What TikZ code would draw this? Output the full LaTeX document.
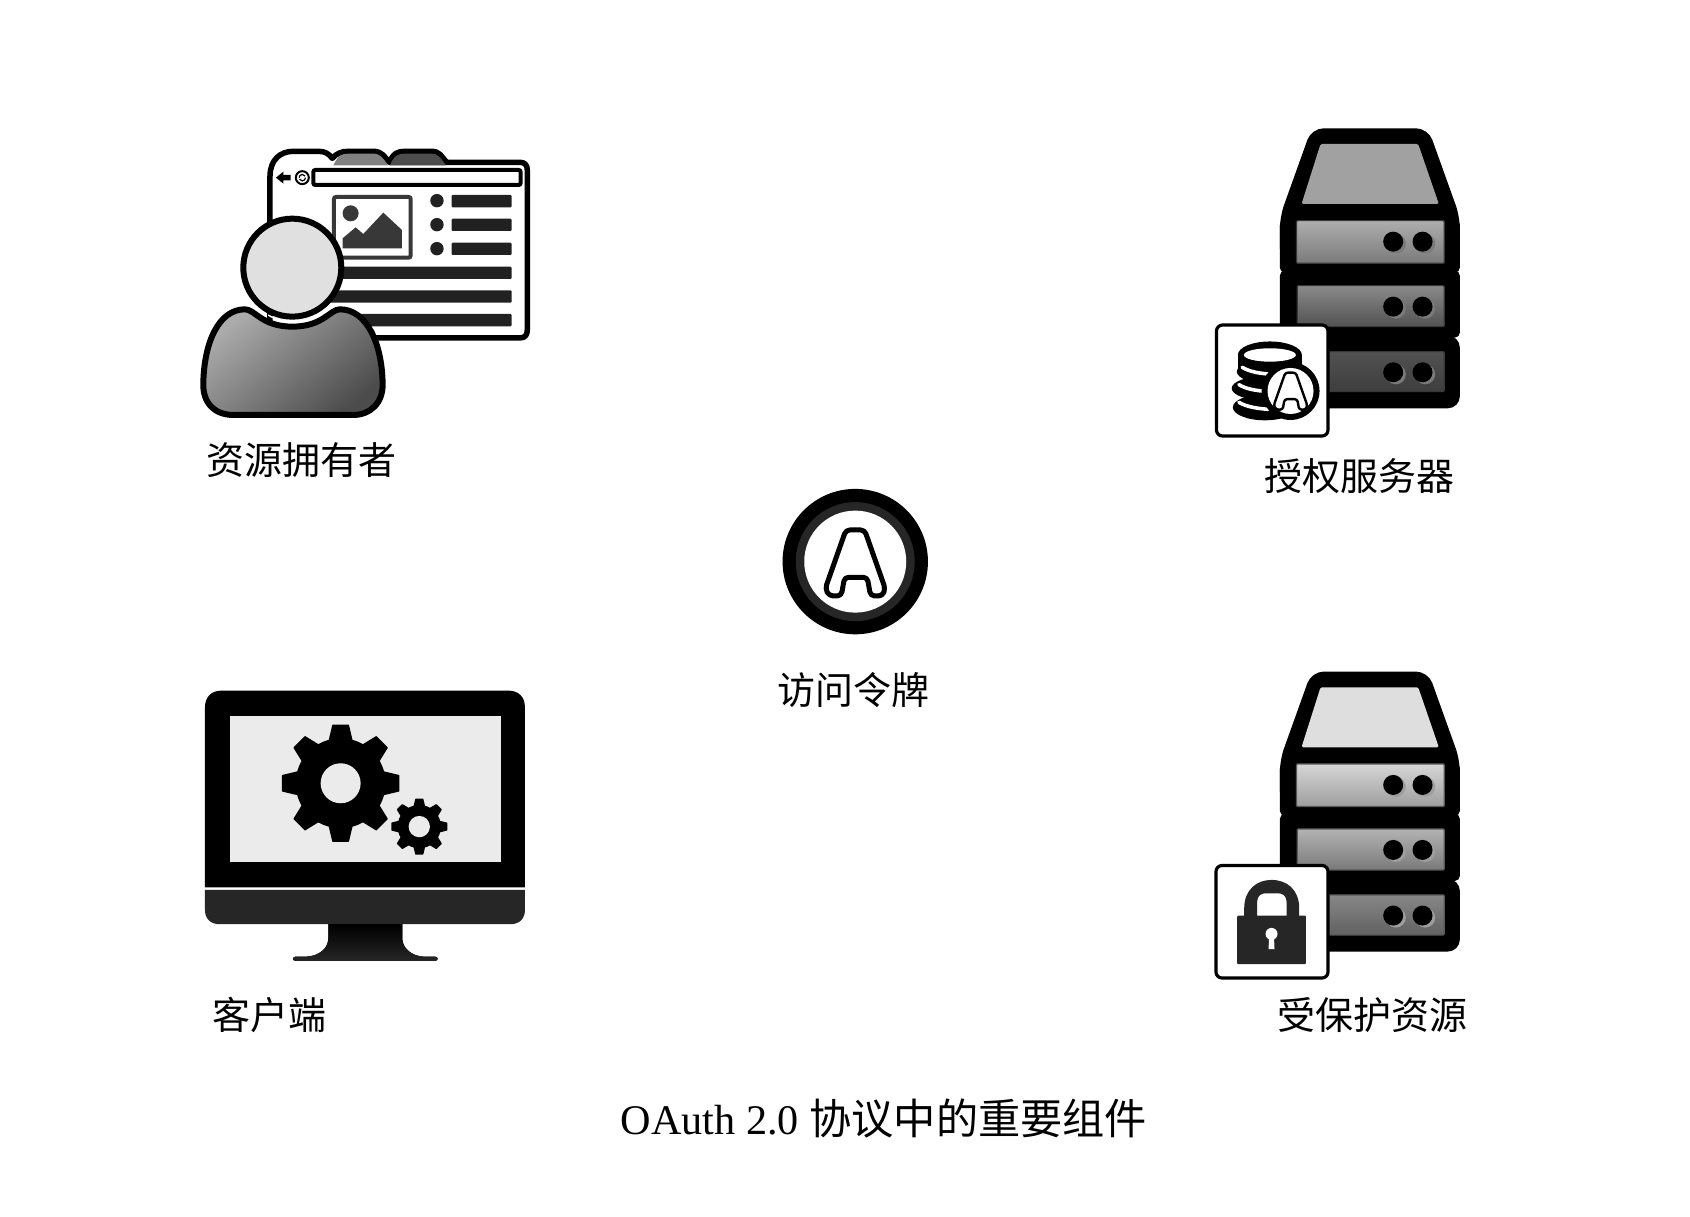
\documentclass[tikz,border=0pt]{standalone}
\usepackage{fontspec}
\setmainfont{Liberation Serif}
\newfontfamily\cjk{Noto Sans CJK SC}
\usetikzlibrary{calc}
\tikzset{
  lab/.style={font=\fontsize{38}{41}\selectfont\cjk,inner sep=0pt,anchor=center},
  captext/.style={font=\fontsize{42.2}{46}\selectfont,inner sep=0pt,anchor=center},
  zoomed/.style={x=0.3333pt,y=-0.3333pt},
  bar/.style={fill=#1,rounded corners=1pt},
  badge/.style={draw=black,line width=3.2pt,fill=white,rounded corners=6pt},
}
% letter A, drawn with its centre at the origin of the current scope (3x px)
\newcommand{\letterA}[1]{%
  \draw[line width=#1,fill=white,line join=round,rounded corners=4pt]
    (-28,-98)--(28,-98)--(90,78)--(82,100)--(46,100)--(36,44)--(-32,44)--(-42,100)--(-78,100)--(-90,78)--cycle;}
% server stack: #1 shift y, #2..#7 gradient colours, #8 top colour, #9 frame colour
\newcommand{\serverstack}[9]{%
\begin{scope}[zoomed,shift={(3600,#1)}]
  \fill[black,rounded corners=12pt] (335,25)--(685,25)--(780,290)--(780,420)--(240,420)--(240,290)--cycle;
  \fill[black,rounded corners=5pt] (240,300) rectangle (780,458);
  \fill[black,rounded corners=5pt] (240,452) rectangle (780,653);
  \fill[black,rounded corners=12pt] (240,647) rectangle (780,865);
  \fill[#8,rounded corners=1.5pt] (305,252)--(362,72)--(655,72)--(717,252)--cycle;
  \draw[draw=#9,line width=1.2pt,top color=#2,bottom color=#3,rounded corners=1pt] (290,302) rectangle (733,430);
  \draw[draw=#9,line width=1.2pt,top color=#4,bottom color=#5,rounded corners=1pt] (292,497) rectangle (733,620);
  \draw[draw=#9,line width=1.2pt,top color=#6,bottom color=#7,rounded corners=1pt] (300,695) rectangle (733,815);
  \foreach \yy in {365,560,757}{
    \foreach \xx in {580,668}{
      \fill[black!75!#3] (\xx+8,\yy+6) circle (10pt);
      \fill[black] (\xx,\yy) circle (10pt);
    }
  }
\end{scope}}
% gear
\newcommand{\gear}[6]{% cx cy rbody rtip scale-halfwidths hole
  \fill[black] (#1,#2) circle[radius=#3/3*1pt];
  \foreach \a in {0,45,...,315}{
    \fill[black,rounded corners=.5pt] ($(#1,#2)+(\a-17:#3*.333pt*.95)$)--($(#1,#2)+(\a-8:#4*.333pt)$)--($(#1,#2)+(\a+8:#4*.333pt)$)--($(#1,#2)+(\a+17:#3*.333pt*.95)$)--cycle;
  }
  \fill[#6] (#1,#2) circle[radius=#5/3*1pt];}
\begin{document}
\begin{tikzpicture}[x=1pt,y=-1pt]
\useasboundingbox (0,0) rectangle (1690,1216);
\fill[white] (0,0) rectangle (1690,1216);

%% browser
\begin{scope}[zoomed,shift={(570,390)}]
  \draw[line width=5.5pt,line join=round] (597,100)..controls (610,68) and (625,64) .. (645,64)--(725,64)..controls (750,64) and (755,80) .. (770,97);
  \draw[line width=5.5pt,line join=round,fill=white]
    (240,620)--(240,140)..controls (240,90) and (270,64) .. (310,64)
    --(385,64)..controls (405,64) and (415,70) .. (427,85)
    ..controls (440,70) and (455,64) .. (475,64)--(550,64)..controls (575,64) and (585,80) .. (597,97)
    --(770,97)--(990,97)..controls (1005,97) and (1012,105) .. (1012,120)
    --(1012,600)..controls (1012,615) and (1005,624) .. (990,624)--(260,624)..controls (250,624) and (240,620) .. (240,600)--cycle;
  \fill[black!50] (430,106)..controls (445,76) and (455,71) .. (475,71)--(550,71)..controls (572,71) and (582,88) .. (594,106)--cycle;
  \fill[black!70] (600,106)..controls (612,76) and (625,71) .. (645,71)--(725,71)..controls (745,71) and (755,88) .. (768,106)--cycle;
  \draw[line width=4pt,fill=white,rounded corners=2pt] (370,120) rectangle (992,165);
  \fill[black] (258,143)--(280,125)--(280,135)--(302,135)--(302,151)--(280,151)--(280,161)--cycle;
  \draw[line width=2pt] (337,143) circle (6.5pt);
  \draw[line width=1.2pt] (327.4,143) arc (180:30:3.2pt);
  \draw[line width=1.2pt] (346.6,143) arc (0:-150:3.2pt);
  \draw[draw=black!78,line width=4pt,fill=white,rounded corners=2pt] (432,201) rectangle (662,383);
  \fill[black!78] (482,250) circle (8pt);
  \fill[black!78] (458,355)--(458,325)--(497,292)--(520,312)--(580,248)--(636,300)--(636,355)--cycle;
  \foreach \yy in {212,284,356}{
    \fill[black!87] (741,\yy) circle (6.7pt);
  }
  \foreach \yy in {195,266,338}{
    \fill[bar=black!87] (785,\yy) rectangle (965,\yy+37);
  }
  \foreach \yy in {410,481,552}{
    \fill[bar=black!87] (400,\yy) rectangle (965,\yy+37);
  }
  %% user
  \draw[line width=6pt,left color=black!33,right color=black!70,shading angle=40]
    (40,760)..controls (42,640) and (85,538) .. (165,538)
    ..controls (195,538) and (215,590) .. (307,590)
    ..controls (400,590) and (420,538) .. (450,538)
    ..controls (530,538) and (576,640) .. (578,760)
    ..controls (580,820) and (540,855) .. (490,855)--(130,855)
    ..controls (75,855) and (38,820) .. (40,760)--cycle;
  \draw[line width=1.5pt,white] (235,555)..controls (265,578) and (350,578) .. (385,555);
  \draw[line width=6pt,fill=black!12] (307,413) circle (49pt);
\end{scope}

%% servers
\serverstack{360}{black!32}{black!52}{black!46}{black!68}{black!68}{black!76}{black!37}{black!78}
\serverstack{1990}{black!16}{black!38}{black!30}{black!52}{black!47}{black!62}{black!13}{black!65}

%% auth badge
\draw[badge] (1216.5,325) rectangle (1328,436);
\begin{scope}[zoomed,shift={(3675,990)}]
  \fill[black] (132,125) ellipse (32pt and 12pt);
  \fill[black] (118,175) ellipse (32.5pt and 12pt);
  \fill[black] (120,232) ellipse (32pt and 13pt);
  \fill[black] (40,75) rectangle (230,125);
  \fill[black] (135,75) ellipse (32pt and 13.5pt);
  \fill[white] (135,75) ellipse (26pt and 6.7pt);
  \draw[white,line width=3.6pt,line cap=round] (52,112)..controls (75,126) and (105,130) .. (130,132);
  \draw[white,line width=3.6pt,line cap=round] (42,164)..controls (65,178) and (95,182) .. (122,184);
  \draw[white,line width=3.6pt,line cap=round] (42,217)..controls (65,231) and (100,236) .. (130,238);
  \fill[black] (197,183) circle (29pt);
  \fill[white] (197,183) circle (23pt);
  \begin{scope}[shift={(197,183)},scale=.56]
    \draw[line width=2.4pt,fill=white,line join=round,rounded corners=2.5pt]
      (-28,-98)--(28,-98)--(90,78)--(82,100)--(46,100)--(36,44)--(-32,44)--(-42,100)--(-78,100)--(-90,78)--cycle;
  \end{scope}
\end{scope}

%% token
\begin{scope}[zoomed,shift={(2310,1440)}]
  \fill[black] (256,245) circle (72.7pt);
  \fill[black!85] (256,245) circle (59.5pt);
  \fill[white] (256,245) circle (51pt);
  \begin{scope}[shift={(256,248)}]
    \letterA{5pt}
  \end{scope}
\end{scope}

%% monitor
\begin{scope}[zoomed,shift={(570,2040)}]
  \fill[black] (45,622)--(45,82)..controls (45,50) and (65,32) .. (95,32)--(955,32)..controls (985,32) and (1005,50) .. (1005,82)--(1005,622)--cycle;
  \fill[black!85] (45,630)--(1005,630)--(1005,690)..controls (1005,715) and (990,733) .. (960,733)--(90,733)..controls (60,733) and (45,715) .. (45,690)--cycle;
  \fill[black!8] (120,107) rectangle (932,547);
  \gear{452}{310}{135}{178}{60}{black!8}
  \gear{688}{440}{65}{85}{32}{black!8}
  \fill[top color=black,bottom color=black!85] (415,733)--(637,733)--(637,775)..controls (637,805) and (665,828) .. (700,830)
    --(735,830)..controls (746,832) and (746,842) .. (735,843)--(317,843)..controls (306,842) and (306,832) .. (317,830)--(350,830)
    ..controls (388,828) and (415,805) .. (415,775)--cycle;
\end{scope}

%% protected badge
\draw[badge] (1216,865.5) rectangle (1328,978);
\begin{scope}[zoomed,shift={(3600,1980)}]
  \fill[black!85,even odd rule] (133,770)--(133,745)..controls (133,690) and (170,660) .. (215,660)..controls (262,660) and (298,690) .. (298,745)--(298,770)--(260,770)--(260,725)..controls (260,710) and (250,700) .. (235,700)--(197,700)..controls (182,700) and (172,710) .. (172,725)--(172,770)--cycle;
  \fill[black!85,rounded corners=1pt] (112,767) rectangle (318,913);
  \fill[white] (215,822) circle (6pt);
  \fill[white] (208,825)--(222,825)--(224,868)--(206,868)--cycle;
\end{scope}

%% labels
\node[lab] (owner) at (301,460) {资源拥有者};
\node[lab] (authsrv) at (1359,476) {授权服务器};
\node[lab] (token) at (853,690) {访问令牌};
\node[lab] (client) at (269,1015) {客户端};
\node[lab] (res) at (1372,1015) {受保护资源};
\node[captext] (caption) at (884,1119) {OAuth 2.0 {\cjk 协议中的重要组件}};
\end{tikzpicture}
\end{document}
